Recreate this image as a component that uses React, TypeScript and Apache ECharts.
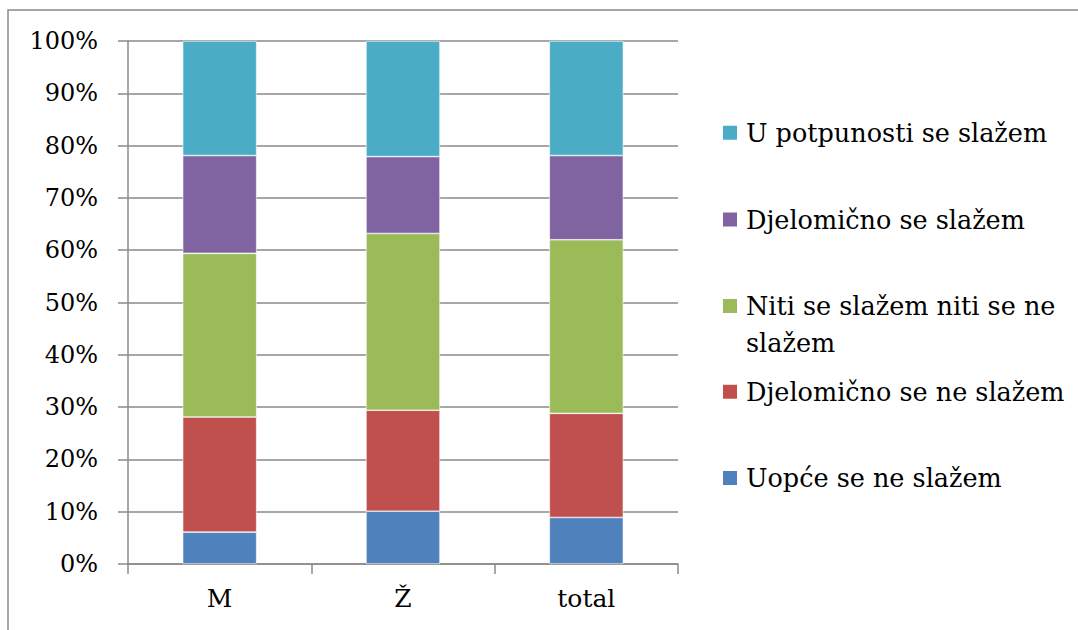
import React, { useEffect, useRef } from "react";
import * as echarts from "echarts";

const categories = ["M", "Ž", "total"];
const seriesNames = [
  "Uopće se ne slažem",
  "Djelomično se ne slažem",
  "Niti se slažem niti se ne slažem",
  "Djelomično se slažem",
  "U potpunosti se slažem",
];
const uopceNe = [6.1, 10.1, 8.9];
const djelomicnoNe = [22.0, 19.3, 19.9];
const niti = [31.3, 33.8, 33.2];
const djelomicnoDa = [18.7, 14.7, 16.1];
const potpuno = [21.9, 22.1, 21.9];
const yTicks = [0, 10, 20, 30, 40, 50, 60, 70, 80, 90, 100];

const colors = ["#4F81BD", "#C0504D", "#9BBB59", "#8064A2", "#4BACC6"];
const values = [uopceNe, djelomicnoNe, niti, djelomicnoDa, potpuno];

const FONT = "DejaVu Serif";
const GRAY = "#8a8a8a";

export default function App() {
  const ref = useRef<HTMLDivElement>(null);
  useEffect(() => {
    if (!ref.current) return;
    const chart = echarts.init(ref.current, undefined, { renderer: "svg" });
    // legend icon centres (top to bottom) in order: teal, purple, green, red, blue
    const legendOrder = [4, 3, 2, 1, 0];
    const iconCenters = [132.8, 219.5, 306, 391.8, 478];
    const legends = legendOrder.map((si, i) => {
      const isGreen = si === 2;
      return {
        data: [seriesNames[si]],
        orient: "vertical",
        left: 721,
        top: isGreen ? iconCenters[i] - 55.5 : iconCenters[i] - 18.5,
        padding: 0,
        itemWidth: 16,
        itemHeight: 16,
        icon: "rect",
        selectedMode: false,
        formatter: (n: string) =>
          n === seriesNames[2] ? "\nNiti se slažem niti se ne\nslažem" : n,
        textStyle: {
          fontFamily: FONT,
          fontSize: 25.5,
          lineHeight: 37,
          color: "#000",
          padding: [0, 0, 0, 3],
        },
      };
    });
    chart.setOption({
      animation: false,
      backgroundColor: "#fff",
      textStyle: { fontFamily: FONT },
      grid: { left: 128, right: 400, top: 41, bottom: 66 },
      legend: legends,
      graphic: [
        {
          type: "rect",
          shape: { x: 8, y: 10, width: 1100, height: 700 },
          style: { fill: "none", stroke: GRAY, lineWidth: 1.5 },
          silent: true,
        },
      ],
      xAxis: {
        type: "category",
        data: categories,
        axisLine: { lineStyle: { color: GRAY, width: 1.5 } },
        axisTick: { show: true, length: 10, lineStyle: { color: GRAY, width: 1.5 } },
        axisLabel: { fontFamily: FONT, fontSize: 25, color: "#000", margin: 22 },
      },
      yAxis: {
        type: "value",
        min: yTicks[0],
        max: yTicks[yTicks.length - 1],
        interval: 10,
        axisLine: { show: true, lineStyle: { color: GRAY, width: 1.5 } },
        axisTick: { show: true, length: 10, lineStyle: { color: GRAY, width: 1.5 } },
        splitLine: { show: true, lineStyle: { color: GRAY, width: 1.5 } },
        axisLabel: {
          fontFamily: FONT,
          fontSize: 24,
          color: "#000",
          margin: 30,
          formatter: "{value}%",
        },
      },
      series: seriesNames.map((name, i) => ({
        name,
        type: "bar",
        stack: "total",
        barWidth: 74,
        data: values[i],
        itemStyle: { color: colors[i], borderColor: "#fff", borderWidth: 0.6 },
      })),
    });
    return () => chart.dispose();
  }, []);
  return (
    <div
      ref={ref}
      style={{ position: "absolute", left: 0, top: 0, width: 1078, height: 630, background: "#fff" }}
    />
  );
}
